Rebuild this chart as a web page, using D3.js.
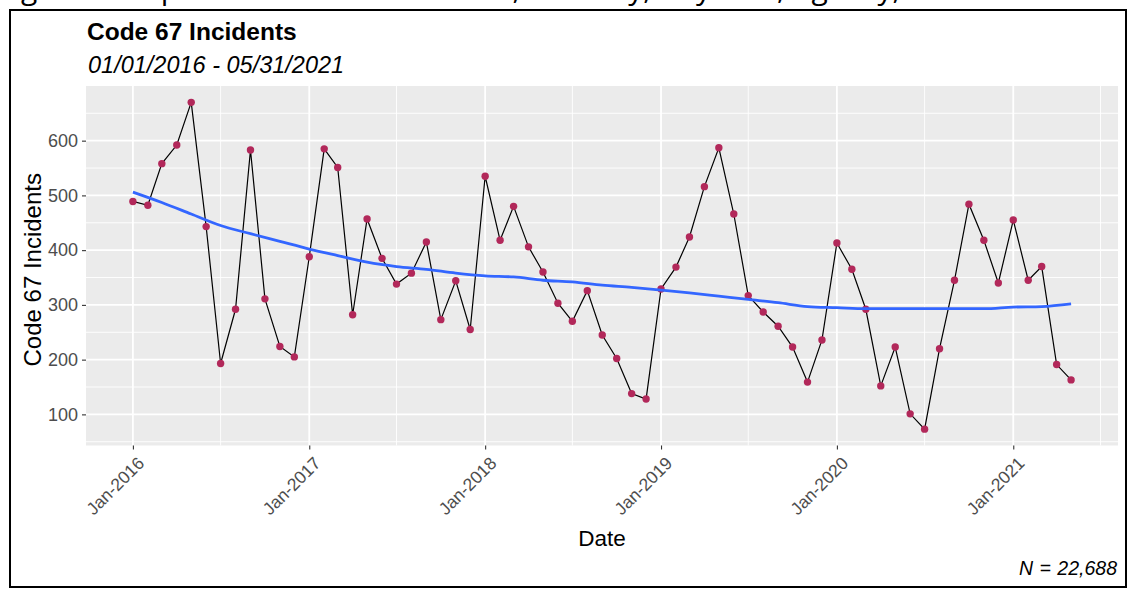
<!DOCTYPE html>
<html>
<head>
<meta charset="utf-8">
<script src="https://cdn.jsdelivr.net/npm/d3@7"></script>
<style>
  body { margin: 0; background: #fff; }
  svg { display: block; }
</style>
</head>
<body>
<div id="chart"></div>
<script>
// monthly counts, Jan 2016 - May 2021
const months = [
  '2016-01', '2016-02', '2016-03', '2016-04', '2016-05', '2016-06', '2016-07', '2016-08', '2016-09', '2016-10', '2016-11', '2016-12',
  '2017-01', '2017-02', '2017-03', '2017-04', '2017-05', '2017-06', '2017-07', '2017-08', '2017-09', '2017-10', '2017-11', '2017-12',
  '2018-01', '2018-02', '2018-03', '2018-04', '2018-05', '2018-06', '2018-07', '2018-08', '2018-09', '2018-10', '2018-11', '2018-12',
  '2019-01', '2019-02', '2019-03', '2019-04', '2019-05', '2019-06', '2019-07', '2019-08', '2019-09', '2019-10', '2019-11', '2019-12',
  '2020-01', '2020-02', '2020-03', '2020-04', '2020-05', '2020-06', '2020-07', '2020-08', '2020-09', '2020-10', '2020-11', '2020-12',
  '2021-01', '2021-02', '2021-03', '2021-04', '2021-05'
]
const incidents = [
  489, 482, 558, 592, 670, 443, 193, 292, 583, 311, 224, 205,
  388, 585, 551, 282, 457, 385, 338, 358, 415, 273, 344, 255,
  535, 418, 480, 406, 360, 303, 270, 326, 245, 202, 138, 128,
  329, 369, 424, 516, 587, 466, 317, 287, 261, 223, 159, 236,
  413, 365, 292, 152, 223, 101, 73, 220, 345, 484, 418, 340,
  455, 345, 370, 191, 163
]
// smoothed trend
const smoothMonths = [
  '2016-01', '2016-03', '2016-05', '2016-07', '2016-09', '2016-11',
  '2017-01', '2017-03', '2017-05', '2017-07', '2017-09', '2017-11',
  '2018-01', '2018-03', '2018-05', '2018-07', '2018-09', '2018-11',
  '2019-01', '2019-03', '2019-05', '2019-07', '2019-09', '2019-11',
  '2020-01', '2020-03', '2020-05', '2020-07', '2020-09', '2020-11',
  '2021-01', '2021-03', '2021-05'
]
const smoothValues = [
  506, 487, 466, 445, 430, 416,
  402, 390, 378, 370, 365, 358,
  353, 351, 345, 342, 336, 332,
  327, 322, 316, 310, 304, 297,
  295, 293, 293, 293, 293, 293,
  296, 297, 302
]
const yTicks = [100, 200, 300, 400, 500, 600]
const yMinor = [50, 150, 250, 350, 450, 550, 650]
const xTickYears = [2016, 2017, 2018, 2019, 2020, 2021]

const width = 1129
const height = 590
const panel = { left: 86, right: 1118, top: 86, bottom: 445.5 }
const font = 'Liberation Sans, Arial, sans-serif'

const parse = d3.timeParse('%Y-%m')
const data = months.map((m, i) => ({ date: parse(m), value: incidents[i] }))
const smooth = smoothMonths.map((m, i) => ({ date: parse(m), value: smoothValues[i] }))

// ggplot-like 5% expansion
const expand = ([a, b]) => {
  const pad = (b - a) * 0.05
  return [a - pad, b + pad]
}
const [x0, x1] = expand(d3.extent(data, d => +d.date))
const x = d3.scaleTime()
  .domain([new Date(x0), new Date(x1)])
  .range([panel.left, panel.right])
const y = d3.scaleLinear()
  .domain(expand(d3.extent(incidents)))
  .range([panel.bottom, panel.top])

const majorDates = xTickYears.map(yr => new Date(yr, 0, 1))
const minorDates = d3.range(2015, 2022).map(yr => new Date(yr, 6, 1))
  .filter(d => x(d) > panel.left && x(d) < panel.right)

const svg = d3.select('#chart').append('svg')
  .attr('width', width)
  .attr('height', height)
  .attr('viewBox', `0 0 ${width} ${height}`)

// caption line of the page above, cut off by the window
svg.append('text')
  .attr('x', -2).attr('y', -1)
  .attr('font-family', 'Open Sans')
  .attr('font-size', 30)
  .attr('fill', '#000')
  .text('Figure 6: Reported Code 67 Incidents, Monthly, Citywide, Agency,')

svg.append('rect')
  .attr('x', 10).attr('y', 10)
  .attr('width', 1116).attr('height', 577)
  .attr('fill', '#fff')
  .attr('stroke', '#000')
  .attr('stroke-width', 2)

// panel
svg.append('rect')
  .attr('x', panel.left).attr('y', panel.top)
  .attr('width', panel.right - panel.left)
  .attr('height', panel.bottom - panel.top)
  .attr('fill', '#EBEBEB')

const grid = svg.append('g').attr('stroke', '#fff')
grid.selectAll('line.ymin').data(yMinor).join('line')
  .attr('class', 'ymin')
  .attr('x1', panel.left).attr('x2', panel.right)
  .attr('y1', d => y(d)).attr('y2', d => y(d))
  .attr('stroke-width', 0.9)
grid.selectAll('line.xmin').data(minorDates).join('line')
  .attr('class', 'xmin')
  .attr('x1', d => x(d)).attr('x2', d => x(d))
  .attr('y1', panel.top).attr('y2', panel.bottom)
  .attr('stroke-width', 0.9)
grid.selectAll('line.ymaj').data(yTicks).join('line')
  .attr('class', 'ymaj')
  .attr('x1', panel.left).attr('x2', panel.right)
  .attr('y1', d => y(d)).attr('y2', d => y(d))
  .attr('stroke-width', 1.8)
grid.selectAll('line.xmaj').data(majorDates).join('line')
  .attr('class', 'xmaj')
  .attr('x1', d => x(d)).attr('x2', d => x(d))
  .attr('y1', panel.top).attr('y2', panel.bottom)
  .attr('stroke-width', 1.8)

// axes
const yAxis = svg.append('g')
  .attr('transform', `translate(${panel.left},0)`)
  .call(d3.axisLeft(y).tickValues(yTicks).tickSize(4).tickPadding(4))
yAxis.select('.domain').remove()
yAxis.selectAll('line').attr('stroke', '#333').attr('stroke-width', 1.1)
yAxis.selectAll('text')
  .attr('fill', '#4D4D4D')
  .attr('font-family', font)
  .attr('font-size', 18)

const xAxis = svg.append('g')
  .attr('transform', `translate(0,${panel.bottom})`)
  .call(d3.axisBottom(x).tickValues(majorDates).tickSize(4).tickFormat(d3.timeFormat('%b-%Y')))
xAxis.select('.domain').remove()
xAxis.selectAll('line').attr('stroke', '#333').attr('stroke-width', 1.1)
xAxis.selectAll('text')
  .attr('fill', '#4D4D4D')
  .attr('font-family', font)
  .attr('font-size', 17.5)
  .attr('text-anchor', 'end')
  .attr('y', 0)
  .attr('dy', '0.72em')
  .attr('transform', 'translate(3,10) rotate(-45)')

// series
const line = d3.line().x(d => x(d.date)).y(d => y(d.value))
svg.append('path')
  .datum(data)
  .attr('d', line)
  .attr('fill', 'none')
  .attr('stroke', '#000')
  .attr('stroke-width', 1.2)
svg.append('g')
  .selectAll('circle')
  .data(data)
  .join('circle')
  .attr('cx', d => x(d.date))
  .attr('cy', d => y(d.value))
  .attr('r', 3.7)
  .attr('fill', '#B2285A')
svg.append('path')
  .datum(smooth)
  .attr('d', line.curve(d3.curveMonotoneX))
  .attr('fill', 'none')
  .attr('stroke', '#3366FF')
  .attr('stroke-width', 2.8)

// titles
svg.append('text')
  .attr('x', 87).attr('y', 40)
  .attr('font-family', font).attr('font-weight', 'bold').attr('font-size', 24.5)
  .text('Code 67 Incidents')
svg.append('text')
  .attr('x', 88).attr('y', 73)
  .attr('font-family', font).attr('font-style', 'italic').attr('font-size', 23.5)
  .text('01/01/2016 - 05/31/2021')
svg.append('text')
  .attr('x', (panel.left + panel.right) / 2).attr('y', 546)
  .attr('text-anchor', 'middle')
  .attr('font-family', font).attr('font-size', 22.5)
  .text('Date')
svg.append('text')
  .attr('transform', `translate(41,${(panel.top + panel.bottom) / 2 + 4}) rotate(-90)`)
  .attr('text-anchor', 'middle')
  .attr('font-family', font).attr('font-size', 24)
  .text('Code 67 Incidents')
svg.append('text')
  .attr('x', 1117).attr('y', 575)
  .attr('text-anchor', 'end')
  .attr('font-family', font).attr('font-style', 'italic').attr('font-size', 19.5)
  .attr('word-spacing', 1)
  .text('N = 22,688')
</script>
</body>
</html>
